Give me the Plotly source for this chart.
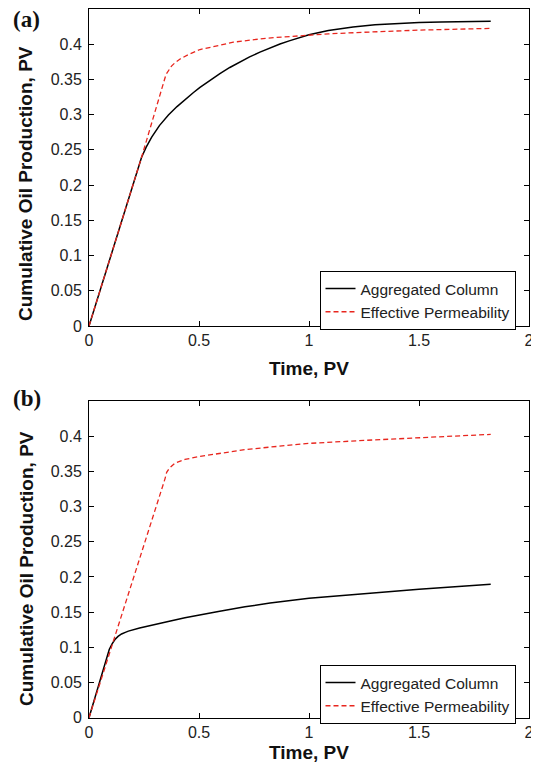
import plotly.graph_objects as go

# ---------------- data ----------------
# Panel (a)
a_agg_x = [0, 0.239, 0.26, 0.285, 0.32, 0.361, 0.40, 0.436, 0.475, 0.5045, 0.55, 0.595, 0.64, 0.686, 0.73,
           0.777, 0.82, 0.868, 0.91, 0.959, 1.0, 1.088, 1.2, 1.3, 1.4, 1.5, 1.6, 1.7, 1.826]
a_agg_y = [0, 0.2396, 0.2540, 0.2680, 0.2845, 0.2995, 0.3115, 0.3215, 0.3315, 0.3388, 0.3490, 0.3584, 0.3670, 0.3750,
           0.3820, 0.3887, 0.3944, 0.4003, 0.4048, 0.4097, 0.4133, 0.4195, 0.4245, 0.4275, 0.4295, 0.4307, 0.4316,
           0.4321, 0.4326]
a_eff_x = [0, 0.239, 0.35, 0.362, 0.375, 0.392, 0.414, 0.45, 0.5045, 0.588, 0.656, 0.808, 0.959, 1.088, 1.25, 1.5, 1.826]
a_eff_y = [0, 0.2396, 0.357, 0.3635, 0.369, 0.374, 0.379, 0.385, 0.3925, 0.398, 0.4029, 0.4086, 0.4123, 0.4147, 0.417, 0.420, 0.4225]

# Panel (b)
b_agg_x = [0, 0.092, 0.105, 0.118, 0.132, 0.148, 0.165, 0.179, 0.23, 0.285, 0.36, 0.436, 0.51, 0.588, 0.709,
           0.823, 1.0, 1.25, 1.5, 1.826]
b_agg_y = [0, 0.097, 0.105, 0.111, 0.1155, 0.119, 0.1213, 0.123, 0.1275, 0.131, 0.1367, 0.142, 0.1467, 0.151, 0.1575,
           0.163, 0.1696, 0.1762, 0.1824, 0.1895]
b_eff_x = [0, 0.2015, 0.345, 0.353, 0.365, 0.391, 0.436, 0.5, 0.588, 0.709, 0.823, 1.0, 1.25, 1.5, 1.826]
b_eff_y = [0, 0.1967, 0.339, 0.3486, 0.3545, 0.3618, 0.367, 0.371, 0.3755, 0.381, 0.3845, 0.3898, 0.394, 0.398, 0.4026]

series_names = ["Aggregated Column", "Effective Permeability"]
x_tickvals = [0, 0.5, 1, 1.5, 2]
x_ticktext = ["0", "0.5", "1", "1.5", "2"]
y_tickvals = [0, 0.05, 0.1, 0.15, 0.2, 0.25, 0.3, 0.35, 0.4]
y_ticktext = ["0", "0.05", "0.1", "0.15", "0.2", "0.25", "0.3", "0.35", "0.4"]
x_title = "Time, PV"
y_title = "Cumulative Oil Production, PV"
panel_labels = ["(a)", "(b)"]

# ---------------- figure ----------------
# The page body has an 8px margin, so the figure is sized to fit the window after it.
OFF = 8
W, H = 539 - OFF, 773 - OFF


def px(xp):
    return (xp - OFF) / W


def py(yp):
    return 1 - (yp - OFF) / H


BLACK = "#000000"
RED = "#e8261e"
FONT = "Liberation Sans, Arial, Helvetica, sans-serif"

fig = go.Figure()

fig.add_trace(go.Scatter(x=a_agg_x, y=a_agg_y, mode="lines", name=series_names[0],
                         line=dict(color=BLACK, width=1.5), xaxis="x", yaxis="y", legend="legend"))
fig.add_trace(go.Scatter(x=a_eff_x, y=a_eff_y, mode="lines", name=series_names[1],
                         line=dict(color=RED, width=1.3, dash="5px,3px"), xaxis="x", yaxis="y", legend="legend"))
fig.add_trace(go.Scatter(x=b_agg_x, y=b_agg_y, mode="lines", name=series_names[0],
                         line=dict(color=BLACK, width=1.5), xaxis="x2", yaxis="y2", legend="legend2"))
fig.add_trace(go.Scatter(x=b_eff_x, y=b_eff_y, mode="lines", name=series_names[1],
                         line=dict(color=RED, width=1.3, dash="5px,3px"), xaxis="x2", yaxis="y2", legend="legend2"))

xdom = [px(89), px(529)]
ydom_a = [py(326), py(9)]
ydom_b = [py(717.7), py(401)]

axis_common = dict(showline=True, linecolor=BLACK, linewidth=1, mirror="ticks", ticks="inside",
                   ticklen=5, tickcolor=BLACK, tickwidth=1, showgrid=False, zeroline=False,
                   automargin=False,
                   tickfont=dict(family=FONT, size=16, color="#222222"))

legend_common = dict(xanchor="center", yanchor="top",
                     bgcolor="white", bordercolor=BLACK, borderwidth=1,
                     font=dict(family=FONT, size=15.5, color="#222222"), tracegroupgap=0,
                     itemwidth=30)

fig.update_layout(
    width=W, height=H,
    margin=dict(l=0, r=0, t=0, b=0, autoexpand=False),
    paper_bgcolor="white", plot_bgcolor="white",
    xaxis=dict(domain=xdom, range=[0, 2], tickvals=x_tickvals, ticktext=x_ticktext, anchor="y", **axis_common),
    yaxis=dict(domain=ydom_a, range=[0, 0.45], tickvals=y_tickvals, ticktext=y_ticktext, anchor="x",
               ticklabelstandoff=3, **axis_common),
    xaxis2=dict(domain=xdom, range=[0, 2], tickvals=x_tickvals, ticktext=x_ticktext, anchor="y2", **axis_common),
    yaxis2=dict(domain=ydom_b, range=[0, 0.45], tickvals=y_tickvals, ticktext=y_ticktext, anchor="x2",
                ticklabelstandoff=3, **axis_common),
    showlegend=True,
    legend=dict(x=px(417.5), y=py(271), **legend_common),
    legend2=dict(x=px(417.5), y=py(665), **legend_common),
)

annotations = []
for label, yc in zip(panel_labels, [19.5, 398]):
    annotations.append(dict(text="<b>" + label + "</b>", x=px(26.5), y=py(yc),
                            xref="paper", yref="paper",
                            xanchor="center", yanchor="middle", showarrow=False,
                            font=dict(family="Liberation Serif, Times New Roman, serif", size=23, color="#111111")))
for yc in [184, 569]:
    annotations.append(dict(text="<b>" + y_title + "</b>", x=px(26), y=py(yc), xref="paper", yref="paper",
                            xanchor="center", yanchor="middle", showarrow=False, textangle=-90,
                            font=dict(family=FONT, size=19, color="#111111")))
for yc in [368, 752]:
    annotations.append(dict(text="<b>" + x_title + "</b>", x=px(309), y=py(yc), xref="paper", yref="paper",
                            xanchor="center", yanchor="middle", showarrow=False,
                            font=dict(family=FONT, size=19, color="#111111")))
fig.update_layout(annotations=annotations)

fig.write_html("out.html")
